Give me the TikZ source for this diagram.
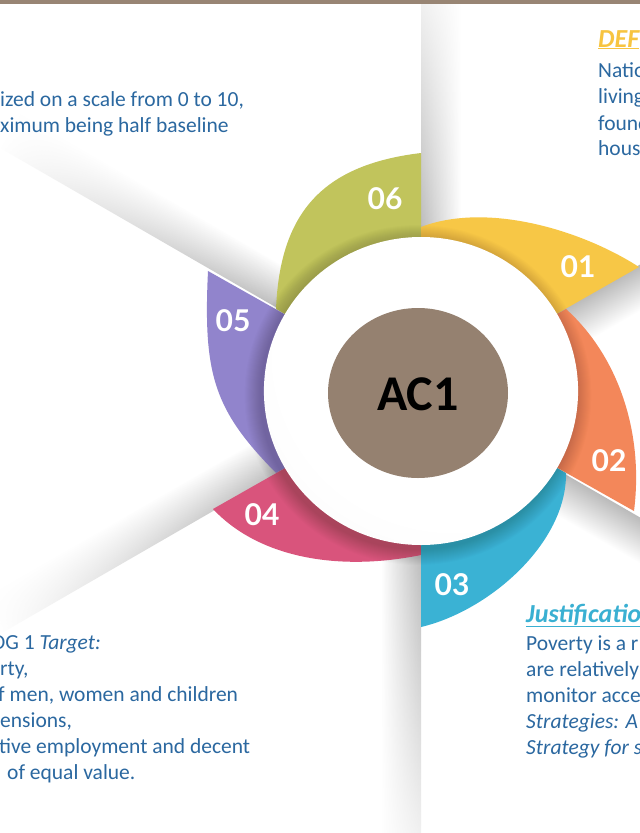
\documentclass[tikz,border=0pt]{standalone}
\usepackage{fontspec}
\setmainfont{Carlito}
\newfontfamily\numfont{Lato}
\usetikzlibrary{fadings}

\definecolor{textblue}{RGB}{43,104,160}
\definecolor{defyellow}{RGB}{247,196,64}
\definecolor{justblue}{RGB}{58,176,210}
\definecolor{barbrown}{RGB}{152,133,116}
\definecolor{hubbrown}{RGB}{149,129,112}
\definecolor{segGreen}{RGB}{193,196,92}
\definecolor{segYellow}{RGB}{247,199,70}
\definecolor{segOrange}{RGB}{243,135,90}
\definecolor{segBlue}{RGB}{58,178,212}
\definecolor{segPink}{RGB}{217,84,124}
\definecolor{segPurple}{RGB}{145,132,204}

% fold shadows fade out towards the page edge
\tikzfading[name=lenfade, left color=transparent!0, middle color=transparent!25, right color=transparent!100]
% soft grey rim on the white disc, lit from the upper right
\pgfdeclareradialshading{discshade}{\pgfpoint{12bp}{14bp}}{color(0bp)=(white); color(28bp)=(white); color(42bp)=(black!3); color(50bp)=(black!11)}

\begin{document}
\begin{tikzpicture}[x=1pt, y=-1pt,
  foldshade/.style={top color=black!27, middle color=black!9, bottom color=white},
  txt/.style={anchor=base west, inner sep=0pt, text=textblue, font=\fontsize{21.5}{26}\selectfont},
  heading/.style={anchor=base west, inner sep=0pt, font=\fontsize{26}{30}\selectfont\bfseries\itshape},
  num/.style={anchor=center, inner sep=0pt, text=white, font=\numfont\bfseries\fontsize{30}{30}\selectfont}]
\useasboundingbox (0,0) rectangle (640,833);
\fill[white] (0,0) rectangle (640,833);
\clip (0,0) rectangle (640,833);

% paper folds: a soft shadow on the clockwise side of each radial crease
\foreach \ang/\len in {90/450, 150/486, 210/486, 270/520} {
  \begin{scope}[transform canvas={shift={(421,391)}, rotate=\ang}]
    \shade[foldshade, path fading=lenfade] (150,0) rectangle (\len,40);
  \end{scope}
}
\foreach \ang in {30, 330} {
  \begin{scope}[transform canvas={shift={(421,391)}, rotate=\ang}]
    \shade[foldshade] (150,0) rectangle (320,40);
  \end{scope}
}

% petals: each starts wide on one crease and tapers onto the next
\coordinate (hubc) at (421,391);
\fill[segGreen]  (hubc) -- (421,153) .. controls (321,165) and (280,214) .. (276,309) -- cycle;
\fill[segPurple] (hubc) -- (208,271) .. controls (203,375) and (214,410) .. (276,473) -- cycle;
\fill[segPink]   (hubc) -- (213,509) .. controls (261,560) and (343,571) .. (421,555) -- cycle;
\fill[segBlue]   (hubc) -- (421,627) .. controls (489,611) and (567,543) .. (566,473) -- cycle;
\fill[segOrange] (hubc) -- (634,511) .. controls (644,432) and (618,356) .. (566,309) -- cycle;
\fill[segYellow] (hubc) -- (639,267) .. controls (580,229) and (486,202) .. (421,227) -- cycle;

% white disc with its cast shadow
\begin{scope}[shift={(421,391)}, x=1.02pt, y=1pt]
  \foreach \k in {1,...,16} {
    \fill[black, opacity=0.012] (-3,-4) circle ({154+\k});
  }
  \shade[shading=discshade] (0,0) circle (154);
\end{scope}

% hub
\fill[hubbrown] (418,393) ellipse [x radius=90pt, y radius=85pt];
\node[inner sep=0pt, font=\fontsize{50}{50}\selectfont\bfseries] (hub) at (418,394) {AC1};

% petal numbers
\node[num] (n01) at (578,267) {01};
\node[num] (n02) at (609,461) {02};
\node[num] (n03) at (452,585) {03};
\node[num] (n04) at (262,515) {04};
\node[num] (n05) at (233,321) {05};
\node[num] (n06) at (385,199) {06};

% top left text
\node[txt] (tl1) at (0,106) {ized on a scale from 0 to 10,};
\node[txt] (tl2) at (0,132) {ximum being half baseline};

% top right text
\node[heading, text=defyellow] (defh) at (598,47) {\underline{DEF}};
\node[txt] (tr1) at (598,77) {Natio};
\node[txt] (tr2) at (598,103) {living};
\node[txt] (tr3) at (598,130) {found};
\node[txt] (tr4) at (598,155) {hous};

% bottom left text
\node[txt] (bl1) at (-8,649) {DG 1 \textit{Target:}};
\node[txt] (bl2) at (0,675) {rty,};
\node[txt] (bl3) at (-2,701) {f men, women and children};
\node[txt] (bl4) at (0,727) {ensions,};
\node[txt] (bl5) at (-1,753) {tive employment and decent};
\node[txt] (bl6) at (7,779) {of equal value.};

% bottom right text
\node[heading, text=justblue] (justh) at (526,622) {\underline{Justificatio}};
\node[txt] (br1) at (526,650) {Poverty is a r};
\node[txt] (br2) at (526,676) {are relatively};
\node[txt] (br3) at (526,702) {monitor acce};
\node[txt] (br4) at (526,728) {\textit{Strategies: A}};
\node[txt] (br5) at (526,754) {\textit{Strategy for s}};

% top rule
\fill[barbrown] (0,0) rectangle (640,4);
\end{tikzpicture}
\end{document}
